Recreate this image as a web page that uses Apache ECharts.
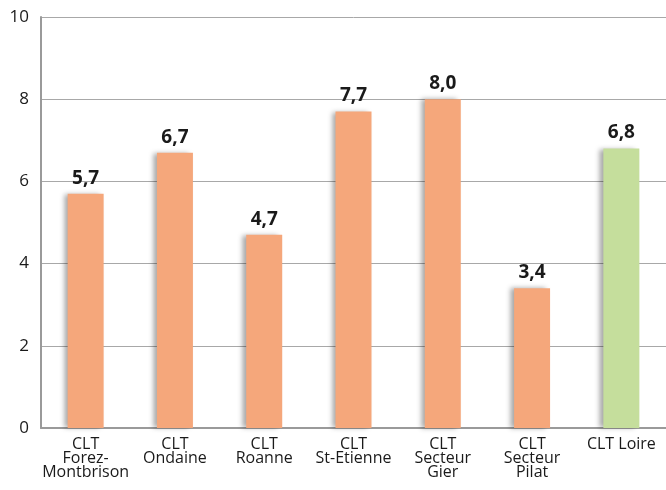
<!DOCTYPE html>
<html><head><meta charset="utf-8">
<script src="https://cdn.jsdelivr.net/npm/echarts@6/dist/echarts.min.js"></script>
<style>html,body{margin:0;padding:0;background:#fff}#c{width:666px;height:490px}</style>
</head><body><div id="c"></div>
<script>
const categories = ["CLT\nForez-\nMontbrison","CLT\nOndaine","CLT\nRoanne","CLT\nSt-Etienne","CLT\nSecteur\nGier","CLT\nSecteur\nPilat","CLT Loire"];
const values = [5.7, 6.7, 4.7, 7.7, 8.0, 3.4, 6.8];
const barColors = ["#F5A77B","#F5A77B","#F5A77B","#F5A77B","#F5A77B","#F5A77B","#C5DE9C"];
const chart = echarts.init(document.getElementById('c'));
const font = '"Open Sans", "Noto Sans", sans-serif';
chart.setOption({
  animation:false,
  grid:{left:41,right:-2,top:17,bottom:62},
  xAxis:{type:'category',data:categories,
    axisLine:{lineStyle:{color:'#9a9a9a',width:2}},
    axisTick:{show:false},
    axisLabel:{color:'#1a1a1a',fontSize:16,fontFamily:font,lineHeight:14,margin:9,interval:0}},
  yAxis:{type:'value',min:0,max:10,interval:2,
    axisLine:{show:true,lineStyle:{color:'#9a9a9a',width:2}},
    axisTick:{show:false},
    splitLine:{lineStyle:{color:'#a8a8a8',width:1}},
    axisLabel:{color:'#1a1a1a',fontSize:17,fontFamily:font,margin:12}},
  series:[{type:'bar',barWidth:36,
    data:values.map((v,i)=>({value:v,itemStyle:{color:barColors[i]}})),
    itemStyle:{shadowColor:'rgba(0,0,0,0.35)',shadowBlur:5,shadowOffsetX:-4,shadowOffsetY:0},
    label:{show:true,position:'top',distance:6,color:'#1a1a1a',fontSize:19,fontWeight:'bold',fontFamily:font,
      formatter:p=>p.value.toFixed(1).replace('.',',')}}]
});
</script></body></html>
